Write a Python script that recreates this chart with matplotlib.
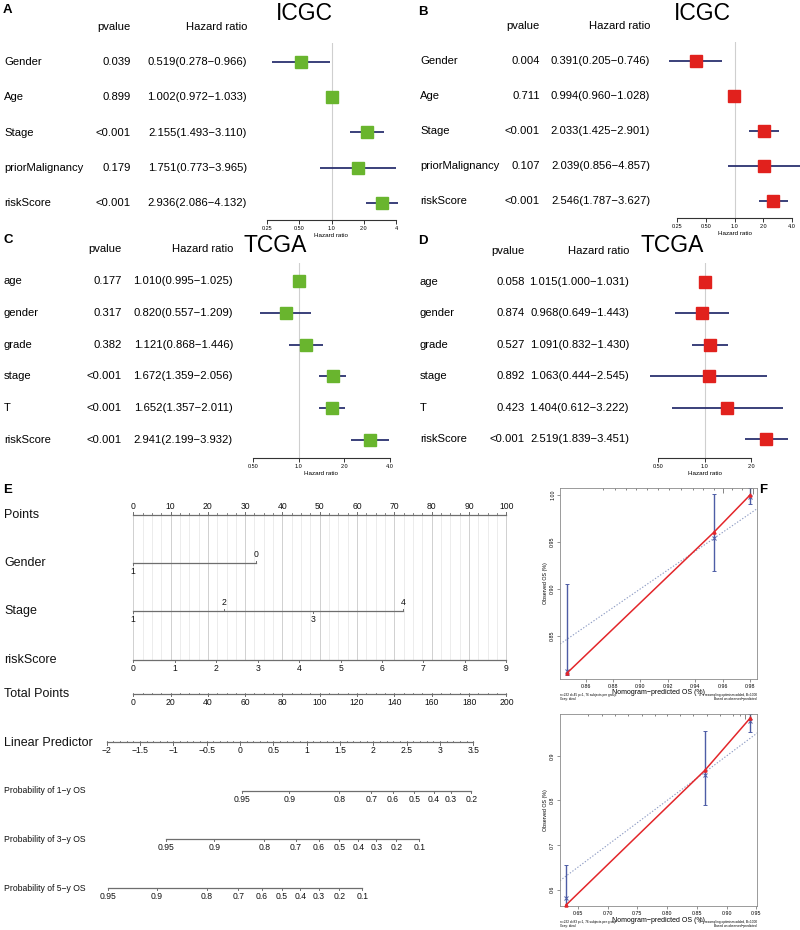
import numpy as np
import matplotlib
matplotlib.use("Agg")
import matplotlib.pyplot as plt
from matplotlib.transforms import blended_transform_factory
from matplotlib.ticker import NullLocator

plt.rcParams['font.family'] = ['Liberation Sans', 'DejaVu Sans']

W, H = 800, 930
fig = plt.figure(figsize=(8, 9.3), dpi=100)


def px_axes(x0, y0, x1, y1):
    return fig.add_axes([x0 / W, 1 - y1 / H, (x1 - x0) / W, (y1 - y0) / H])


def fx(x):
    return x / W


def fy(y):
    return 1 - y / H


# ---- A / B : ICGC cox regression ----
icgc_vars = ['Gender', 'Age', 'Stage', 'priorMalignancy', 'riskScore']
a_p = ['0.039', '0.899', '<0.001', '0.179', '<0.001']
a_hr = [0.519, 1.002, 2.155, 1.751, 2.936]
a_lo = [0.278, 0.972, 1.493, 0.773, 2.086]
a_hi = [0.966, 1.033, 3.110, 3.965, 4.132]

b_p = ['0.004', '0.711', '<0.001', '0.107', '<0.001']
b_hr = [0.391, 0.994, 2.033, 2.039, 2.546]
b_lo = [0.205, 0.960, 1.425, 0.856, 1.787]
b_hi = [0.746, 1.028, 2.901, 4.857, 3.627]

# ---- C / D : TCGA cox regression ----
tcga_vars = ['age', 'gender', 'grade', 'stage', 'T', 'riskScore']
c_p = ['0.177', '0.317', '0.382', '<0.001', '<0.001', '<0.001']
c_hr = [1.010, 0.820, 1.121, 1.672, 1.652, 2.941]
c_lo = [0.995, 0.557, 0.868, 1.359, 1.357, 2.199]
c_hi = [1.025, 1.209, 1.446, 2.056, 2.011, 3.932]

d_p = ['0.058', '0.874', '0.527', '0.892', '0.423', '<0.001']
d_hr = [1.015, 0.968, 1.091, 1.063, 1.404, 2.519]
d_lo = [1.000, 0.649, 0.832, 0.444, 0.612, 1.839]
d_hi = [1.031, 1.443, 1.430, 2.545, 3.222, 3.451]

GREEN = '#69b52e'
RED = '#e1211d'
NAVY = '#2b3170'


def forest(box, xlim, ticks, tlabels, row0, step, names, pv, hr, lo, hi, col,
           x_name, x_p, x_hr, title, title_xy, letter, letter_xy):
    x0, ytop, x1, yax = box
    ax = px_axes(x0, ytop, x1, yax)
    n = len(names)
    yy = np.arange(n)
    ax.set_xscale('log', base=2)
    ax.set_xlim(xlim)
    ax.set_ylim((yax - row0) / step, (ytop - row0) / step)
    ax.axvline(1, color='#cfcfcf', lw=0.8, zorder=0)
    ax.hlines(yy, lo, hi, color=NAVY, lw=1.3, clip_on=False, zorder=2)
    ax.plot(hr, yy, 's', ms=8.2, color=col, mec=col, clip_on=False, zorder=3)
    for s in ['top', 'right', 'left']:
        ax.spines[s].set_visible(False)
    ax.spines['bottom'].set_linewidth(0.8)
    ax.spines['bottom'].set_color('#333333')
    ax.set_yticks([])
    ax.set_xticks(ticks)
    ax.set_xticklabels(tlabels)
    ax.xaxis.set_minor_locator(NullLocator())
    ax.tick_params(axis='x', length=3, width=0.7, labelsize=4, pad=1.5, color='#333333')
    ax.set_xlabel('Hazard ratio', fontsize=4.5, labelpad=1)
    ax.patch.set_visible(False)

    tr = blended_transform_factory(fig.transFigure, ax.transData)
    # header sits one row above the first variable
    ax.text(fx(x_p), -1, 'pvalue', transform=tr, ha='right', va='center', fontsize=8.1, clip_on=False)
    ax.text(fx(x_hr), -1, 'Hazard ratio', transform=tr, ha='right', va='center', fontsize=8.1, clip_on=False)
    for i in range(n):
        ax.text(fx(x_name), i, names[i], transform=tr, ha='left', va='center', fontsize=8.1, clip_on=False)
        ax.text(fx(x_p), i, pv[i], transform=tr, ha='right', va='center', fontsize=8.1, clip_on=False)
        txt = '{:.3f}({:.3f}\u2212{:.3f})'.format(hr[i], lo[i], hi[i])
        ax.text(fx(x_hr), i, txt, transform=tr, ha='right', va='center', fontsize=8.1, clip_on=False)
    fig.text(fx(title_xy[0]), fy(title_xy[1]), title, ha='center', va='center', fontsize=16.5)
    fig.text(fx(letter_xy[0]), fy(letter_xy[1]), letter, ha='left', va='center', fontsize=9.5, weight='bold')
    return ax


forest((267, 43, 396, 220), (0.25, 4), [0.25, 0.5, 1, 2, 4], ['0.25', '0.50', '1.0', '2.0', '4'],
       62, 35.25, icgc_vars, a_p, a_hr, a_lo, a_hi, GREEN,
       4, 131, 247, 'ICGC', (304, 14), 'A', (3, 10))
forest((677, 42, 792, 218), (0.25, 4), [0.25, 0.5, 1, 2, 4], ['0.25', '0.50', '1.0', '2.0', '4.0'],
       61, 35, icgc_vars, b_p, b_hr, b_lo, b_hi, RED,
       420, 540, 650, 'ICGC', (702, 14), 'B', (418, 12))
forest((253, 263, 390, 458), (0.5, 4), [0.5, 1, 2, 4], ['0.50', '1.0', '2.0', '4.0'],
       281, 31.8, tcga_vars, c_p, c_hr, c_lo, c_hi, GREEN,
       4, 122, 233, 'TCGA', (275, 246), 'C', (3, 240))
forest((658, 263, 751, 458), (0.5, 2), [0.5, 1, 2], ['0.50', '1.0', '2.0'],
       282, 31.4, tcga_vars, d_p, d_hr, d_lo, d_hi, RED,
       420, 525, 629, 'TCGA', (672, 246), 'D', (418, 241))

# ---- E : nomogram (positions in "Points" units) ----
points_ticks = np.arange(0, 101, 10)
gender_levels = ['1', '0']
gender_pts = [0, 33.0]
gender_side = ['below', 'above']
stage_levels = ['1', '2', '3', '4']
stage_pts = [0, 24.3, 48.3, 72.4]
stage_side = ['below', 'above', 'below', 'above']
risk_values = np.arange(0, 10)
risk_max = 9
total_ticks = np.arange(0, 201, 20)
lp_ticks = np.arange(-2, 3.51, 0.5)
lp_ends = (-2, 3.5)
lp_ends_pts = (-7.1, 91.1)
p1_labels = ['0.95', '0.9', '0.8', '0.7', '0.6', '0.5', '0.4', '0.3', '0.2']
p1_pts = [29.1, 41.8, 55.2, 63.8, 69.6, 75.3, 80.6, 85.1, 90.6]
p3_labels = ['0.95', '0.9', '0.8', '0.7', '0.6', '0.5', '0.4', '0.3', '0.2', '0.1']
p3_pts = [8.9, 21.7, 35.1, 43.5, 49.7, 55.2, 60.3, 65.1, 70.5, 76.7]
p5_labels = ['0.95', '0.9', '0.8', '0.7', '0.6', '0.5', '0.4', '0.3', '0.2', '0.1']
p5_pts = [-6.7, 6.4, 19.8, 28.2, 34.4, 39.8, 44.8, 49.7, 55.2, 61.4]

pp = 3.732  # px per point
x_zero = 133.2
nax = px_axes(0, 480, 560, 930)
nax.set_xlim(-x_zero / pp, (560 - x_zero) / pp)
nax.set_ylim(930, 480)
nax.axis('off')
LC = '#6e6e6e'
label_x = (4 - x_zero) / pp

rows = {'Points': 514.6, 'Gender': 563, 'Stage': 611, 'riskScore': 660,
        'Total Points': 694, 'Linear Predictor': 742.5,
        'Probability of 1\u2212y OS': 790.7, 'Probability of 3\u2212y OS': 839,
        'Probability of 5\u2212y OS': 888}

for name, y in rows.items():
    fsz = 6.2 if name.startswith('Prob') else 9
    nax.text(label_x, y, name, ha='left', va='center', fontsize=fsz, color='#111111')

# grid lines
for g in np.arange(0, 100.1, 2.5):
    c = '#d0d0d0' if g % 10 == 0 else '#ececec'
    nax.plot([g, g], [rows['Points'], rows['riskScore']], color=c, lw=0.7, zorder=0)


def nscale(y, pos, labels, sides, minor=None, fs=6.2):
    nax.plot([min(pos), max(pos)], [y, y], color=LC, lw=0.9)
    if minor is not None:
        for m in minor:
            nax.plot([m, m], [y, y - 1.2], color=LC, lw=0.6)
    for p, l, s in zip(pos, labels, sides):
        d = -1 if s == 'above' else 1
        nax.plot([p, p], [y, y + 2.2 * d], color=LC, lw=0.7)
        nax.text(p, y + 8.3 * d, l, ha='center', va='center', fontsize=fs, color='#111111')


nscale(rows['Points'], points_ticks, [str(v) for v in points_ticks], ['above'] * 11,
       minor=np.arange(0, 100.1, 2.5))
nscale(rows['Gender'], gender_pts, gender_levels, gender_side)
nscale(rows['Stage'], stage_pts, stage_levels, stage_side)
risk_pts = risk_values * 100.0 / risk_max
nscale(rows['riskScore'], risk_pts, [str(v) for v in risk_values], ['below'] * 10)
nscale(rows['Total Points'], total_ticks / 2.0, [str(v) for v in total_ticks], ['below'] * 11,
       minor=np.arange(0, 200.1, 5) / 2.0)
lp_scale = (lp_ends_pts[1] - lp_ends_pts[0]) / (lp_ends[1] - lp_ends[0])
lp_pts = lp_ends_pts[0] + (lp_ticks - lp_ends[0]) * lp_scale
lp_labels = ['{:g}'.format(v).replace('-', '\u2212') for v in lp_ticks]
nscale(rows['Linear Predictor'], lp_pts, lp_labels, ['below'] * len(lp_ticks),
       minor=lp_ends_pts[0] + (np.arange(-2, 3.51, 0.1) - lp_ends[0]) * lp_scale)
nscale(rows['Probability of 1\u2212y OS'], p1_pts, p1_labels, ['below'] * len(p1_pts))
nscale(rows['Probability of 3\u2212y OS'], p3_pts, p3_labels, ['below'] * len(p3_pts))
nscale(rows['Probability of 5\u2212y OS'], p5_pts, p5_labels, ['below'] * len(p5_pts))

fig.text(fx(3), fy(490), 'E', ha='left', va='center', fontsize=9.5, weight='bold')
fig.text(fx(759), fy(490), 'F', ha='left', va='center', fontsize=9.5, weight='bold')

# ---- F : calibration curves ----
pred1 = [0.8461, 0.954, 0.980]
obs1 = [0.810, 0.9607, 0.9997]
corr1 = [0.812, 0.954, 0.998]
lo1 = [0.808, 0.919, 0.990]
hi1 = [0.905, 1.0008, 1.007]
rug1 = [0.8727, 0.8815, 0.8895, 0.8969, 0.9049, 0.913, 0.921, 0.9298, 0.938,
        0.946, 0.954, 0.960, 0.9672, 0.9745, 0.980, 0.982]
rug1_h = [1, 1, 1, 1, 1, 1, 1, 1, 1, 1, 1, 2, 1, 1, 3.5, 2.4]

pred2 = [0.630, 0.8637, 0.939]
obs2 = [0.565, 0.868, 0.984]
corr2 = [0.581, 0.856, 0.979]
lo2 = [0.563, 0.790, 0.954]
hi2 = [0.6556, 0.955, 0.994]
rug2 = [0.667, 0.6906, 0.7124, 0.7343, 0.7578, 0.7797, 0.7998, 0.8217, 0.8435,
        0.867, 0.8889, 0.9108, 0.9225, 0.931, 0.9393]
rug2_h = [1, 1, 1, 1, 1, 1, 1, 1, 1, 1, 1, 1, 1, 2, 3.2]


def calib(box, xlim, ylim, xt, xtl, yt, ytl, pred, obs, corr, lo, hi, rug, rug_h, note1):
    x0, y0, x1, y1 = box
    ax = px_axes(x0, y0, x1, y1)
    ax.set_xlim(xlim)
    ax.set_ylim(ylim)
    ax.plot([0, 1], [0, 1], ls=(0, (1.2, 1.6)), color='#8e9cc4', lw=0.8, zorder=1)
    ax.plot(pred, obs, '-', color='#e3262a', lw=1.1, marker='^', ms=2.2, zorder=3, clip_on=False)
    c = np.array(corr)
    ax.errorbar(pred, corr, yerr=[c - np.array(lo), np.array(hi) - c], fmt='x', ms=2.4,
                color='#4e5da6', ecolor='#4e5da6', elinewidth=1.0, capsize=1.6, mew=0.7,
                zorder=2, clip_on=True)
    tr = blended_transform_factory(ax.transData, ax.transAxes)
    ax.vlines(rug, 1 - 0.013 * np.array(rug_h), 1, transform=tr, color='#555555', lw=0.5)
    ax.set_xticks(xt)
    ax.set_xticklabels(xtl)
    ax.set_yticks(yt)
    ax.set_yticklabels(ytl, rotation=90, va='center')
    ax.tick_params(length=2, width=0.5, labelsize=3.8, pad=1.5, color='#666666')
    for s in ax.spines.values():
        s.set_color('#8a8a8a')
        s.set_linewidth(0.6)
    ax.set_ylabel('Observed OS (%)', fontsize=3.8, labelpad=1.5)
    fig.text(fx((x0 + x1) / 2), fy(y1 + 14), 'Nomogram\u2212predicted OS (%)', ha='center',
             va='center', fontsize=5)
    fig.text(fx(x0), fy(y1 + 18), note1 + '\nGray: ideal', ha='left', va='center',
             fontsize=2.3, linespacing=1.2)
    fig.text(fx(x1), fy(y1 + 18), 'X \u2212 resampling optimism added, B=1000\nBased on observed\u2212predicted',
             ha='right', va='center', fontsize=2.3, linespacing=1.2)
    return ax


calib((560, 488, 757, 679), (0.8412, 0.9851), (0.804, 1.0072),
      np.arange(0.86, 0.981, 0.02), ['0.86', '0.88', '0.90', '0.92', '0.94', '0.96', '0.98'],
      [0.85, 0.90, 0.95, 1.00], ['0.85', '0.90', '0.95', '1.00'],
      pred1, obs1, corr1, lo1, hi1, rug1, rug1_h, 'n=232 d=45 p=1, 76 subjects per group')
calib((560, 714, 757, 906), (0.62, 0.951), (0.563, 0.994),
      np.arange(0.65, 0.951, 0.05), ['0.65', '0.70', '0.75', '0.80', '0.85', '0.90', '0.95'],
      [0.6, 0.7, 0.8, 0.9], ['0.6', '0.7', '0.8', '0.9'],
      pred2, obs2, corr2, lo2, hi2, rug2, rug2_h, 'n=232 d=83 p=1, 76 subjects per group')

fig.savefig('out.png', dpi=100)
